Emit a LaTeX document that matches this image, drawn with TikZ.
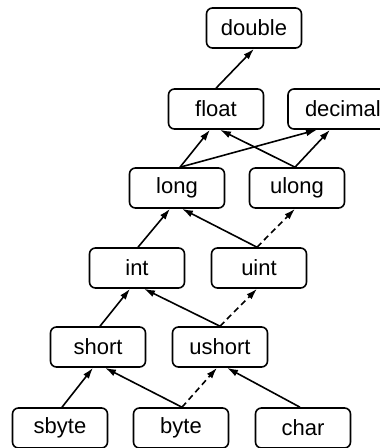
\documentclass[tikz,border=0pt]{standalone}
\usepackage{fontspec}
\setmainfont{Liberation Sans}
\usetikzlibrary{arrows.meta}
\begin{document}
\begin{tikzpicture}[x=1pt,y=-1pt,
  tbox/.style={draw, rounded corners=6pt, line width=1.6pt, minimum width=95pt, minimum height=40pt, inner sep=0pt, font=\fontsize{22}{25}\selectfont},
  conn/.style={line width=1.6pt, -{Latex[length=11pt,width=7pt]}},
  dconn/.style={conn, dash pattern=on 6pt off 4pt}]
\useasboundingbox (0,0) rectangle (380,448);
\node[tbox] (double) at (254,28) {double};
\node[tbox] (float) at (216,109) {float};
\node[tbox, minimum width=104pt] (decimal) at (340,109) {\makebox[70pt][l]{decimal}};
\node[tbox] (long) at (177,188) {long};
\node[tbox] (ulong) at (297,188) {ulong};
\node[tbox] (int) at (137,268) {int};
\node[tbox] (uint) at (259,268) {uint};
\node[tbox] (short) at (98,347) {short};
\node[tbox] (ushort) at (220,347) {ushort};
\node[tbox] (sbyte) at (60,428) {sbyte};
\node[tbox] (byte) at (181,428) {byte};
\node[tbox] (char) at (303,428) {char};
\draw[conn] (float.north) -- (double.south);
\draw[conn] ([xshift=3pt]long.north) -- ([xshift=-6pt]float.south);
\draw[conn] ([xshift=3pt]long.north) -- ([xshift=-23pt]decimal.south);
\draw[conn] ([xshift=-2pt]ulong.north) -- ([xshift=4pt]float.south);
\draw[conn] ([xshift=-2pt]ulong.north) -- ([xshift=-10pt]decimal.south);
\draw[conn] ([xshift=1pt]int.north) -- ([xshift=-7pt]long.south);
\draw[conn] ([xshift=-2pt]uint.north) -- ([xshift=5pt]long.south);
\draw[dconn] ([xshift=-2pt]uint.north) -- ([xshift=-2pt]ulong.south);
\draw[conn] ([xshift=2pt]short.north) -- ([xshift=-7pt]int.south);
\draw[conn] (ushort.north) -- ([xshift=7pt]int.south);
\draw[dconn] (ushort.north) -- ([xshift=-2pt]uint.south);
\draw[conn] ([xshift=2pt]sbyte.north) -- ([xshift=-5pt]short.south);
\draw[conn] ([xshift=1pt]byte.north) -- ([xshift=7pt]short.south);
\draw[dconn] ([xshift=1pt]byte.north) -- ([xshift=-3pt]ushort.south);
\draw[conn] ([xshift=-3pt]char.north) -- ([xshift=7pt]ushort.south);
\end{tikzpicture}
\end{document}
